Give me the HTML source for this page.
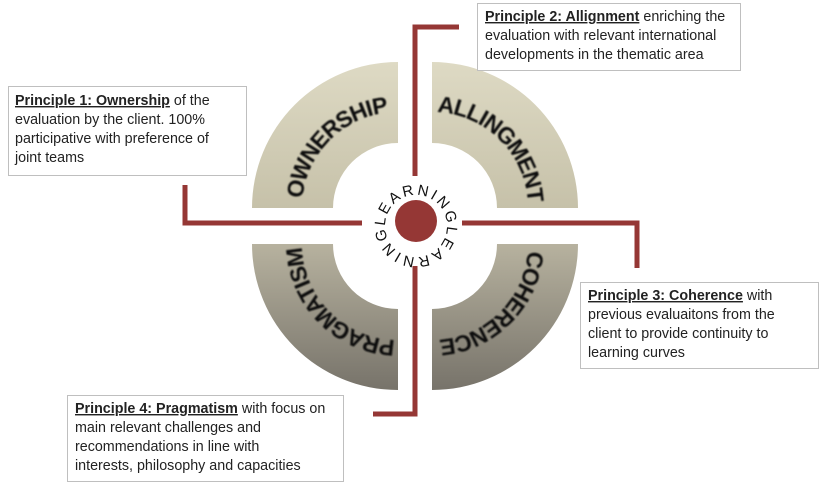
<!DOCTYPE html>
<html><head><meta charset="utf-8"><style>
html,body{margin:0;padding:0;background:#fff;}
svg{display:block}
.b{font-family:"Liberation Sans",sans-serif;font-size:14.3px;fill:#222;}
.seg{font-family:"Liberation Sans",sans-serif;font-weight:bold;font-size:23px;fill:#111;}
.lrn{font-family:"Liberation Sans",sans-serif;font-size:15px;fill:#111;}
</style></head><body>
<svg width="824" height="484" viewBox="0 0 824 484" xmlns="http://www.w3.org/2000/svg">
<defs>
<linearGradient id="gt" gradientUnits="userSpaceOnUse" x1="0" y1="62" x2="0" y2="208">
<stop offset="0" stop-color="#dedac4"/><stop offset="1" stop-color="#c6c1a9"/></linearGradient>
<linearGradient id="gb" gradientUnits="userSpaceOnUse" x1="0" y1="244" x2="0" y2="390">
<stop offset="0" stop-color="#b7b29f"/><stop offset="1" stop-color="#77736a"/></linearGradient>
<filter id="bl" x="-10%" y="-10%" width="120%" height="120%"><feGaussianBlur stdDeviation="0.7"/></filter>
<path id="aTL" d="M 294 208 A 104 104 0 0 1 398 104"/>
<path id="aTR" d="M 432 104 A 104 104 0 0 1 536 208"/>
<path id="aBR" d="M 536 244 A 104 104 0 0 1 432 348"/>
<path id="aBL" d="M 398 348 A 104 104 0 0 1 294 244"/>
<path id="cL" d="M 385 226 A 31 31 0 1 1 447 226 A 31 31 0 1 1 385 226"/>
</defs>
<path d="M252 208 A146 146 0 0 1 398 62 L398 143 A65 65 0 0 0 333 208 Z" fill="url(#gt)"/>
<path d="M432 62 A146 146 0 0 1 578 208 L497 208 A65 65 0 0 0 432 143 Z" fill="url(#gt)"/>
<path d="M578 244 A146 146 0 0 1 432 390 L432 309 A65 65 0 0 0 497 244 Z" fill="url(#gb)"/>
<path d="M398 390 A146 146 0 0 1 252 244 L333 244 A65 65 0 0 0 398 309 Z" fill="url(#gb)"/>
<g filter="url(#bl)">
<text class="seg" dy="8"><textPath href="#aTL" startOffset="50%" text-anchor="middle">OWNERSHIP</textPath></text>
<text class="seg" dy="8"><textPath href="#aTR" startOffset="50%" text-anchor="middle">ALLINGMENT</textPath></text>
<text class="seg" dy="8"><textPath href="#aBR" startOffset="50%" text-anchor="middle">COHERENCE</textPath></text>
<text class="seg" dy="8"><textPath href="#aBL" startOffset="50%" text-anchor="middle">PRAGMATISM</textPath></text>
</g>
<g fill="none" stroke="#953735" stroke-width="5">
<polyline points="459,27 415,27 415,176"/>
<polyline points="185,185 185,223 362,223"/>
<polyline points="462,223 637,223 637,268"/>
<polyline points="415,266 415,414 373,414"/>
</g>
<circle cx="416" cy="221" r="21" fill="#953735"/>
<text class="lrn"><textPath href="#cL" textLength="192" lengthAdjust="spacing">LEARNINGLEARNING</textPath></text>
<g fill="#fff" stroke="#bfbfbf" stroke-width="1">
<rect x="8.5" y="86.5" width="238" height="89"/>
<rect x="477.5" y="3.5" width="263" height="67"/>
<rect x="580.5" y="282.5" width="238" height="86"/>
<rect x="67.5" y="395.5" width="276" height="86"/>
</g>
<text class="b" x="15" y="105"><tspan font-weight="bold" text-decoration="underline">Principle 1:  Ownership</tspan> of the</text>
<text class="b" x="15" y="124">evaluation by the client.  100%</text>
<text class="b" x="15" y="143">participative with preference of</text>
<text class="b" x="15" y="162">joint teams</text>
<text class="b" x="485" y="21"><tspan font-weight="bold" text-decoration="underline">Principle 2:  Allignment</tspan> enriching the</text>
<text class="b" x="485" y="40">evaluation with relevant international</text>
<text class="b" x="485" y="59">developments in the thematic area</text>
<text class="b" x="588" y="300"><tspan font-weight="bold" text-decoration="underline">Principle 3:  Coherence</tspan> with</text>
<text class="b" x="588" y="319">previous evaluaitons from the</text>
<text class="b" x="588" y="338">client to provide continuity to</text>
<text class="b" x="588" y="357">learning curves</text>
<text class="b" x="75" y="413"><tspan font-weight="bold" text-decoration="underline">Principle 4:  Pragmatism</tspan> with focus on</text>
<text class="b" x="75" y="432">main relevant challenges and</text>
<text class="b" x="75" y="451">recommendations in line with</text>
<text class="b" x="75" y="470">interests, philosophy and capacities</text>
</svg>
</body></html>
